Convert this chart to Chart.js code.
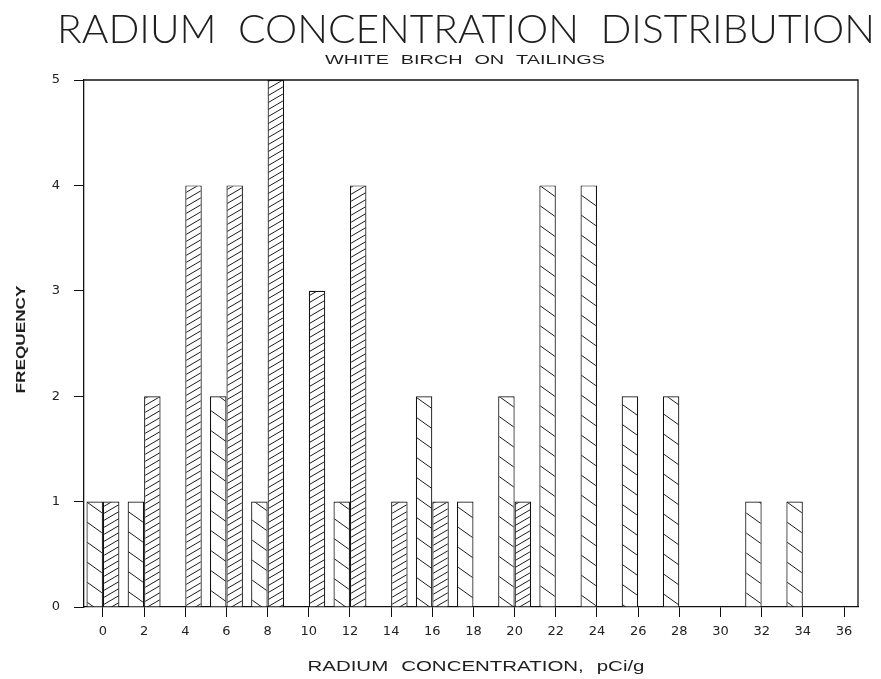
<!DOCTYPE html>
<html>
<head>
<meta charset="utf-8">
<script src="https://cdn.jsdelivr.net/npm/chart.js@4.4.1/dist/chart.umd.min.js"></script>
<style>
  html, body { margin: 0; padding: 0; background: #fff; }
  canvas { display: block; }
</style>
</head>
<body>
<canvas id="chart" width="881" height="679"></canvas>
<script>
// Radium concentration classes (pCi/g)
const concentration = [0, 2, 4, 6, 8, 10, 12, 14, 16, 18, 20, 22, 24, 26, 28, 30, 32, 34, 36];
// Frequencies, back-slash hatched bars (left of each class)
const groupA = [1, 1, 0, 2, 1, 0, 1, 0, 2, 1, 2, 4, 4, 2, 2, 0, 1, 1, 0];
// Frequencies, forward-slash hatched bars (right of each class)
const groupB = [1, 2, 4, 4, 5, 3, 4, 1, 1, 0, 1, 0, 0, 0, 0, 0, 0, 0, 0];
// Frequency axis ticks
const frequencyTicks = [0, 1, 2, 3, 4, 5];

const titleText = 'RADIUM CONCENTRATION DISTRIBUTION';
const subtitleText = 'WHITE BIRCH ON TAILINGS';
const xTitleText = 'RADIUM CONCENTRATION, pCi/g';
const yTitleText = 'FREQUENCY';

const canvas = document.getElementById('chart');
const ctx = canvas.getContext('2d');

// Diagonal hatch tile; 'back' = \\\ , 'fwd' = ///
function hatch(w, h, dir) {
  const c = document.createElement('canvas');
  c.width = w; c.height = h;
  const g = c.getContext('2d');
  g.fillStyle = '#fff';
  g.fillRect(0, 0, w, h);
  g.strokeStyle = '#1c1c1c';
  g.lineWidth = 1;
  for (const off of [-h, 0, h]) {
    g.beginPath();
    if (dir === 'back') { g.moveTo(0, off); g.lineTo(w, off + h); }
    else { g.moveTo(0, off + h); g.lineTo(w, off); }
    g.stroke();
  }
  return ctx.createPattern(c, 'repeat');
}

const patternA = hatch(28, 20, 'back');
const patternB = hatch(12, 7, 'fwd');

// Text drawn with a horizontal stretch to a given run length (plotter lettering)
function stretchedText(g, text, cx, cy, font, runLength, gap, vertical) {
  g.save();
  g.font = font;
  g.wordSpacing = gap + 'px';
  const w = g.measureText(text).width;
  g.translate(cx, cy);
  if (vertical) g.rotate(-Math.PI / 2);
  g.scale(runLength / w, 1);
  g.textAlign = 'center';
  g.textBaseline = 'alphabetic';
  g.fillStyle = '#1e1e1e';
  g.fillText(text, 0, 0);
  g.restore();
}

const paperPlugin = {
  id: 'paper',
  beforeDraw(chart) {
    const g = chart.ctx;
    g.save();
    g.fillStyle = '#fff';
    g.fillRect(0, 0, chart.width, chart.height);
    g.restore();
  }
};

const framePlugin = {
  id: 'frame',
  afterDatasetsDraw(chart) {
    const { left, right, top, bottom } = chart.chartArea;
    const g = chart.ctx;
    g.save();
    g.strokeStyle = '#111';
    g.lineWidth = 1.3;
    g.beginPath();
    g.moveTo(left, top);
    g.lineTo(right, top);
    g.lineTo(right, bottom);
    g.stroke();
    g.restore();
  }
};

const captionPlugin = {
  id: 'captions',
  afterDraw(chart) {
    const { left, right, top, bottom } = chart.chartArea;
    const g = chart.ctx;
    const mid = (left + right) / 2;
    stretchedText(g, titleText, mid - 5, top - 37, '300 39px Lato', 818, 10);
    stretchedText(g, subtitleText, mid - 6, top - 16.5, '12.5px "Liberation Sans"', 280, 4);
    stretchedText(g, xTitleText, mid + 5, bottom + 64, '14px "Liberation Sans"', 337, 5);
    stretchedText(g, yTitleText, left - 59, (top + bottom) / 2 - 4, 'bold 13px "Liberation Sans"', 108, 0, true);
  }
};

const tickFont = { family: '"DejaVu Sans", sans-serif', size: 13 };

new Chart(ctx, {
  type: 'bar',
  data: {
    datasets: [
      {
        label: 'A',
        data: concentration.map((c, i) => ({ x: c, y: groupA[i] })),
        backgroundColor: patternA,
        borderColor: '#111',
        borderWidth: 1.2,
        categoryPercentage: 0.8,
        barPercentage: 1.0
      },
      {
        label: 'B',
        data: concentration.map((c, i) => ({ x: c, y: groupB[i] })),
        backgroundColor: patternB,
        borderColor: '#111',
        borderWidth: 1.2,
        categoryPercentage: 0.8,
        barPercentage: 1.0
      }
    ]
  },
  options: {
    responsive: false,
    animation: false,
    devicePixelRatio: 1,
    layout: { padding: { top: 80, right: 23, bottom: 0, left: 0 } },
    scales: {
      x: {
        type: 'linear',
        min: -0.92,
        max: 36.68,
        offset: false,
        afterBuildTicks(scale) { scale.ticks = concentration.map(v => ({ value: v })); },
        afterFit(scale) { scale.height = 72; },
        grid: { offset: false, drawOnChartArea: false, drawTicks: true, tickLength: 10, color: '#111', lineWidth: 1 },
        border: { display: true, color: '#111', width: 1.3 },
        ticks: { font: tickFont, color: '#222', padding: 7, maxRotation: 0, autoSkip: false }
      },
      y: {
        type: 'linear',
        min: 0,
        max: 5,
        afterBuildTicks(scale) { scale.ticks = frequencyTicks.map(v => ({ value: v })); },
        afterFit(scale) { scale.width = 84; },
        grid: { drawOnChartArea: false, drawTicks: true, tickLength: 10, color: '#111', lineWidth: 1 },
        border: { display: true, color: '#111', width: 1.3 },
        ticks: { font: tickFont, color: '#222', padding: 14 }
      }
    },
    plugins: {
      legend: { display: false },
      tooltip: { enabled: false },
      title: { display: false }
    }
  },
  plugins: [paperPlugin, framePlugin, captionPlugin]
});
</script>
</body>
</html>
